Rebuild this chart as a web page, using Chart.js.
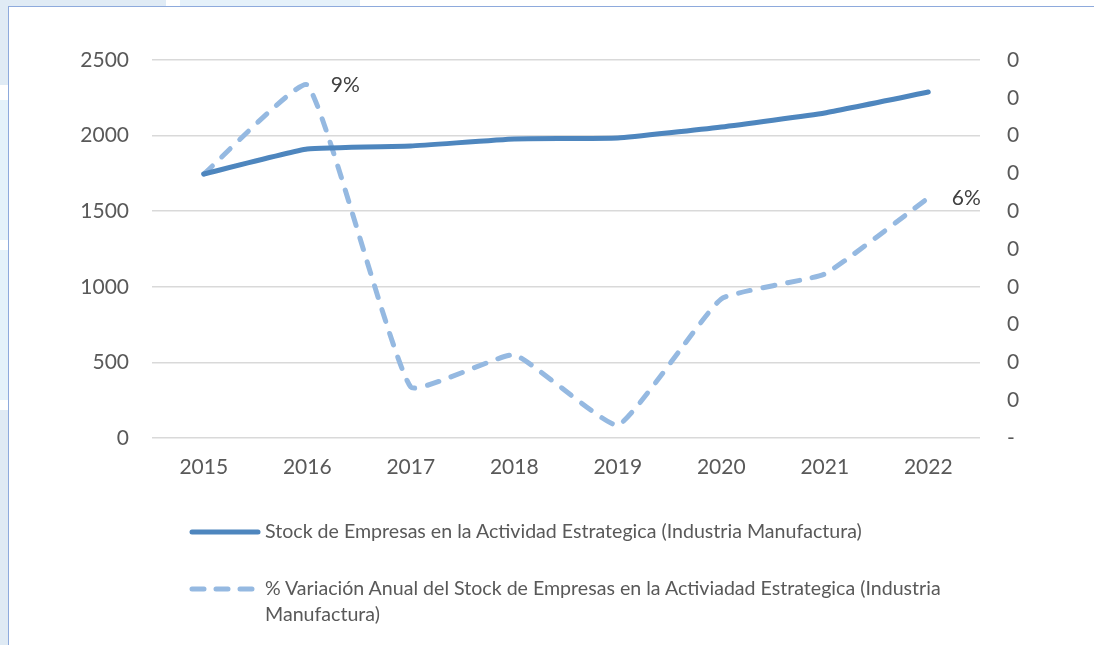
<!DOCTYPE html>
<html>
<head>
<meta charset="utf-8">
<script src="https://cdn.jsdelivr.net/npm/chart.js@4/dist/chart.umd.min.js"></script>
<style>
  html, body { margin:0; padding:0; background:#ffffff; }
  #wrap { position:relative; width:1094px; height:645px; overflow:hidden; background:#ffffff; font-family: Lato, "Open Sans", sans-serif; }
  .bg { position:absolute; }
  #frame { position:absolute; left:8px; top:6px; width:1100px; height:700px; border-left:1.5px solid #8eaadc; border-top:1.5px solid #8eaadc; background:#ffffff; }
  canvas { position:absolute; left:0; top:0; }
  .leg { position:absolute; left:265px; color:#595959; font-size:19.6px; line-height:26px; white-space:nowrap; }
</style>
</head>
<body>
<div id="wrap">
  <div class="bg" style="left:0;top:0;width:166px;height:8px;background:#e0ebf5"></div>
  <div class="bg" style="left:180px;top:0;width:180px;height:8px;background:#e5f1fa"></div>
  <div class="bg" style="left:0;top:0;width:9px;height:85px;background:#e0ebf5"></div>
  <div class="bg" style="left:0;top:100px;width:9px;height:140px;background:#e4f2fa"></div>
  <div class="bg" style="left:0;top:250px;width:9px;height:150px;background:#e4f2fa"></div>
  <div class="bg" style="left:0;top:410px;width:9px;height:235px;background:#dfeaf4"></div>
  <div id="frame"></div>
  <canvas id="c" width="1094" height="645"></canvas>
  <svg style="position:absolute;left:0;top:0" width="1094" height="645">
    <line x1="192" y1="532" x2="258" y2="532" stroke="#4e86be" stroke-width="5" stroke-linecap="round"/>
    <line x1="192" y1="589" x2="258" y2="589" stroke="#95b9e1" stroke-width="5" stroke-linecap="round" stroke-dasharray="12 12"/>
  </svg>
  <div class="leg" style="top:518px">Stock de Empresas en la Actividad Estrategica (Industria Manufactura)</div>
  <div class="leg" style="top:575px">% Variación Anual del Stock de Empresas en la Activiadad Estrategica (Industria<br>Manufactura)</div>
</div>
<script>
const years = ['2015','2016','2017','2018','2019','2020','2021','2022'];
const stockEmpresas = [1746, 1911, 1931, 1978, 1984, 2057, 2150, 2288];
const variacionAnual = [0.0698, 0.0934, 0.0135, 0.0220, 0.0034, 0.0368, 0.0434, 0.0635];
const labeledPoints = [1, 7];
const leftTicks = [0, 500, 1000, 1500, 2000, 2500];

const FONT = 'Lato, "Open Sans", sans-serif';

const labelPlugin = {
  id: 'pctLabels',
  afterDatasetsDraw(chart) {
    const ctx = chart.ctx;
    const meta = chart.getDatasetMeta(1);
    ctx.save();
    ctx.font = '21px ' + FONT;
    ctx.fillStyle = '#404040';
    ctx.textAlign = 'center';
    ctx.textBaseline = 'middle';
    labeledPoints.forEach(i => {
      const p = meta.data[i];
      ctx.fillText(Math.round(variacionAnual[i] * 100) + '%', p.x + 38, p.y);
    });
    ctx.restore();
  }
};

new Chart(document.getElementById('c'), {
  type: 'line',
  data: {
    labels: years,
    datasets: [
      {
        label: 'Stock de Empresas en la Actividad Estrategica (Industria Manufactura)',
        data: stockEmpresas,
        yAxisID: 'y',
        borderColor: '#4e86be',
        borderWidth: 5,
        borderCapStyle: 'round',
        borderJoinStyle: 'round',
        pointRadius: 0,
        tension: 0.12,
        fill: false
      },
      {
        label: '% Variación Anual del Stock de Empresas en la Activiadad Estrategica (Industria Manufactura)',
        data: variacionAnual,
        yAxisID: 'y2',
        borderColor: '#95b9e1',
        borderWidth: 5,
        borderDash: [12, 13],
        borderCapStyle: 'round',
        borderJoinStyle: 'round',
        pointRadius: 0,
        tension: 0.12,
        fill: false
      }
    ]
  },
  options: {
    responsive: false,
    animation: false,
    devicePixelRatio: 1,
    layout: { padding: { left: 0, right: 0, top: 60, bottom: 147 } },
    plugins: { legend: { display: false }, tooltip: { enabled: false } },
    scales: {
      x: {
        offset: true,
        grid: { display: false, drawTicks: false },
        border: { display: false },
        ticks: { color: '#595959', font: { family: FONT, size: 21 }, padding: 17, maxRotation: 0 },
        afterFit(s) { s.height = 60; }
      },
      y: {
        position: 'left',
        min: leftTicks[0],
        max: leftTicks[leftTicks.length - 1],
        afterBuildTicks(s) { s.ticks = leftTicks.map(v => ({ value: v })); },
        grid: { color: '#d9d9d9', lineWidth: 1.5, drawTicks: false },
        border: { display: false },
        ticks: { color: '#595959', font: { family: FONT, size: 21 }, padding: 23, callback: v => String(v) },
        afterFit(s) { s.width = 152; }
      },
      y2: {
        position: 'right',
        min: 0,
        max: 0.1,
        grid: { display: false, drawTicks: false },
        border: { display: false },
        ticks: {
          stepSize: 0.01,
          color: '#595959',
          font: { family: FONT, size: 21 },
          padding: 27,
          callback: v => (Math.abs(v) < 1e-9 ? '-' : String(Math.round(v)))
        },
        afterFit(s) { s.width = 114; }
      }
    }
  },
  plugins: [labelPlugin]
});
</script>
</body>
</html>
